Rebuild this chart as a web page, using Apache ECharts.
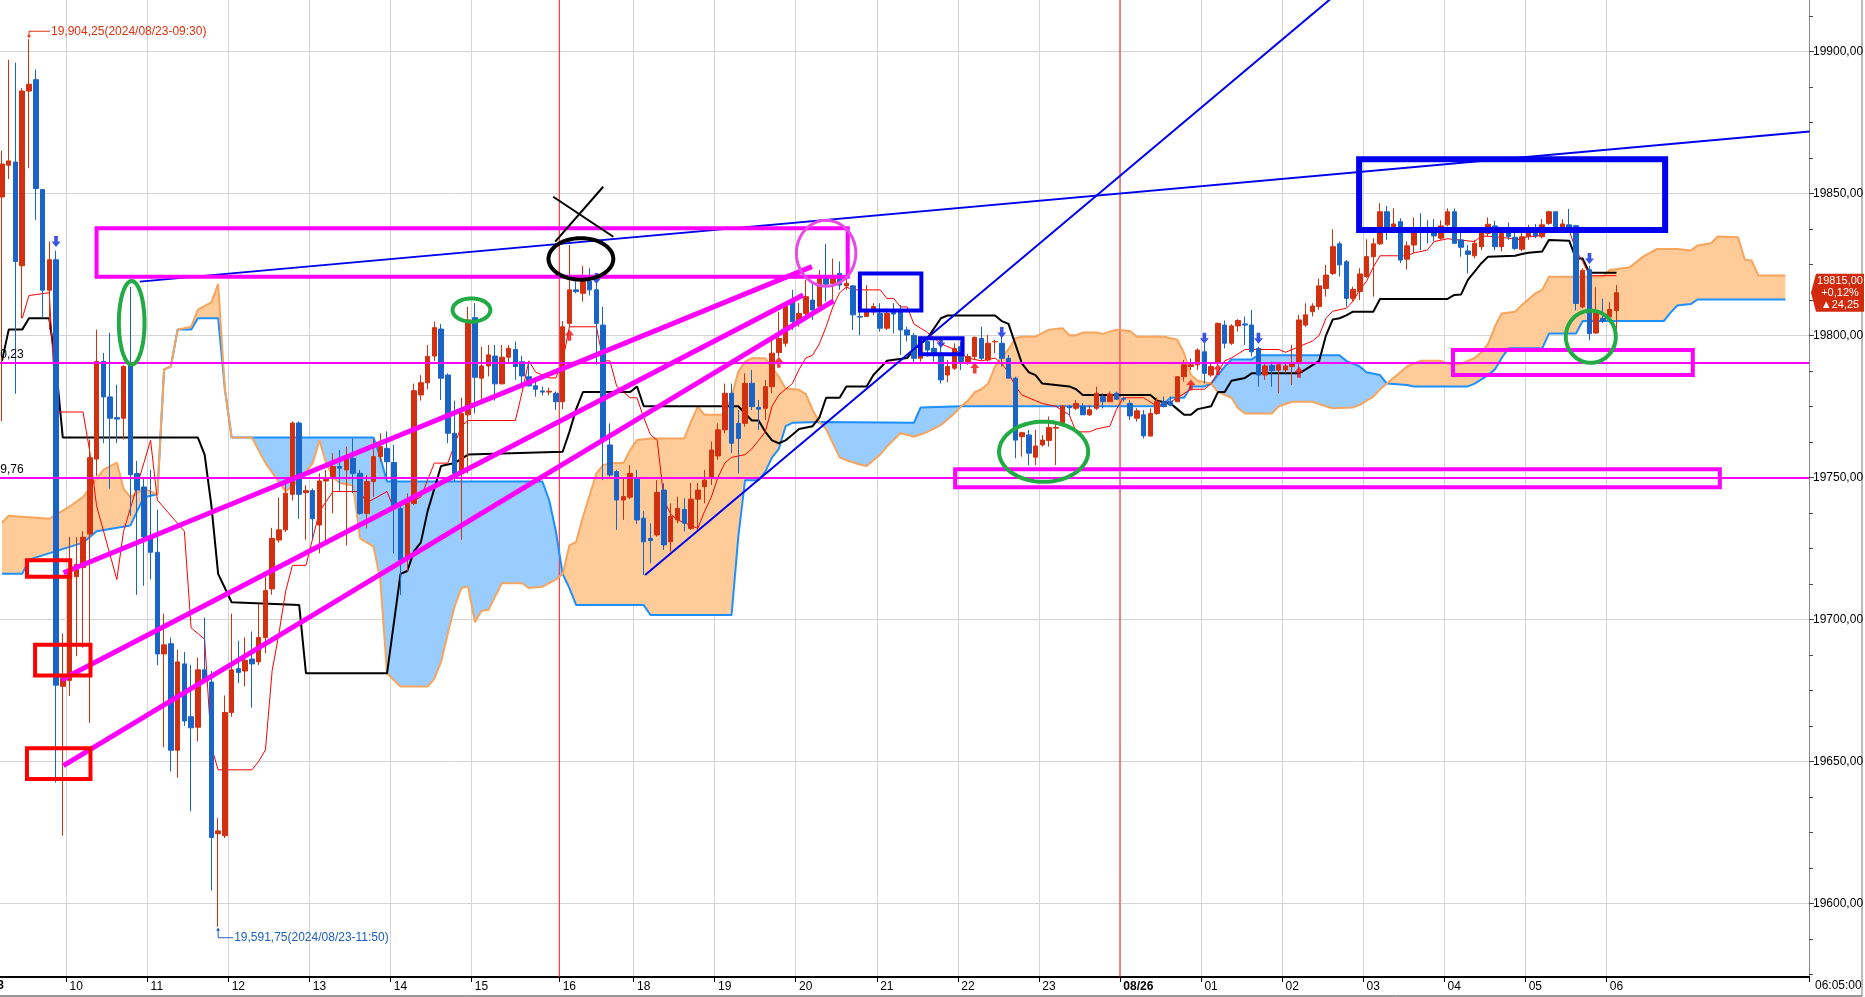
<!DOCTYPE html>
<html>
<head>
<meta charset="utf-8">
<script src="https://cdn.jsdelivr.net/npm/echarts/dist/echarts.min.js"></script>
<style>
  html, body { margin: 0; padding: 0; background: #fff; }
  #chart { width: 1865px; height: 997px; }
</style>
</head>
<body>
<div id="chart"></div>
<script>
// 5분봉 + 일목균형표, 08/23 09:10 ~ 08/26 06:05 (26칸 선행 구름 포함)
const FONT = "'Liberation Sans', Arial, sans-serif";
const UP = "#d3300f", DOWN = "#1a64c8";
const N_SLOTS = 268;

const HOUR_LABELS = { 10: "10", 22: "11", 34: "12", 46: "13", 58: "14", 70: "15", 83: "16", 94: "18",
  106: "19", 118: "20", 130: "21", 142: "22", 154: "23", 166: "08/26", 178: "01", 190: "02",
  202: "03", 214: "04", 226: "05", 238: "06" };
const DAY_BREAKS = [82.5, 165.5];

// [open, close, low, high]
const CANDLES = [
  [19848.7,19860.3,19769.7,19865],[19859.9,19861.4,19855,19897],[19861,19826,19779.4,19896],[19824.5,19886,19806,19887],
  [19886,19888.4,19858.8,19904.25],[19890,19851.7,19840.6,19893.6],[19851.3,19815.9,19806.2,19851.5],[19815.9,19826.6,19802,19833],
  [19826.6,19676.8,19642.5,19829.8],[19676.4,19679.6,19623.8,19695],[19678.5,19717.2,19673,19729],[19715,19719.3,19687,19729],
  [19718.2,19728.9,19690,19731],[19730,19756.9,19663.5,19763.3],[19756.4,19790.8,19750.4,19802],[19790.8,19778.3,19762,19793.8],
  [19778.3,19770.8,19746,19800.9],[19771,19770.5,19762,19782.6],[19770.8,19789,19763.3,19789.5],[19789.5,19750.9,19736.5,19817],
  [19751.3,19745.5,19708.6,19755.8],[19746.6,19729,19711.8,19749.4],[19729,19723.6,19714,19752.6],[19723.6,19687.8,19683.9,19738.6],
  [19687.8,19691,19655,19702],[19691.4,19653.9,19646.4,19693.6],[19653.9,19685,19644.2,19689.3],[19684.3,19664.2,19662.5,19688.5],
  [19665.7,19661.8,19632.4,19684],[19662,19682.2,19657,19686.5],[19682.2,19678.5,19677.5,19700.6],[19677.9,19623.2,19604.5,19681.8],
  [19624.5,19625.5,19591.75,19630],[19623.8,19667.2,19623,19673.2],[19667.2,19682.2,19665.7,19702],[19682.6,19681.3,19677.5,19692.5],
  [19681.8,19685.6,19676.4,19693.6],[19686,19684.3,19668.9,19695.7],[19685,19693.6,19683.9,19705.4],[19693.6,19710.1,19688,19715],
  [19710.7,19728.5,19708.6,19732.2],[19727.9,19731.5,19727,19742.9],[19731.5,19744.4,19730.7,19749.4],[19744,19769.1,19741.8,19769.7],
  [19769.1,19744,19735.4,19769.7],[19744.6,19745.3,19728,19747.2],[19745.3,19735.4,19728.5,19746.1],[19733.2,19748.7,19723.2,19751.4],
  [19748.7,19749.3,19727,19752.6],[19750.2,19753.8,19737.3,19758.5],[19753.8,19753.2,19745,19759.6],[19752.6,19756.7,19726,19760.8],
  [19756.7,19751.4,19744.4,19763.7],[19751.4,19737.3,19736.8,19752.6],[19737.3,19748.5,19732,19750.8],[19748.5,19757.3,19743.2,19763.7],
  [19757.3,19760.8,19755.5,19765.5],[19760.2,19755.5,19749,19766.2],[19755.2,19739,19723.2,19761.4],[19739,19720.9,19708.6,19740],
  [19721.5,19740.8,19716.8,19744.3],[19740.8,19780.5,19740.2,19783],[19779,19783.3,19777,19786],[19783.3,19792.5,19781,19796.6],
  [19792.7,19802.7,19791,19804.8],[19802.2,19784.9,19777.2,19804],[19786,19765.5,19762,19786.6],[19765.5,19751.4,19748.5,19777],
  [19751.4,19772.5,19728,19778],[19772,19805.4,19751.4,19810],[19806.2,19785.2,19772.5,19811.3],[19784.9,19789.2,19777,19796],
  [19789.2,19793.1,19785.5,19796.6],[19792.7,19782.9,19777,19796.6],[19782.9,19792.3,19782.8,19796.6],[19792.3,19795.4,19790.6,19796.6],
  [19795,19789,19784.3,19797.8],[19790.7,19785.7,19782.5,19792.8],[19785.4,19782.2,19782,19790.7],[19782.2,19781,19778.4,19784],
  [19780.4,19780,19778.9,19781.9],[19780,19780.3,19778.9,19781.6],[19779.6,19776.6,19773.7,19780.2],[19776.6,19803,19774,19805],
  [19804.2,19816,19803,19831.8],[19816,19815.4,19814.8,19819],[19814.8,19819,19811.9,19824.4],[19819,19816,19814,19823.6],
  [19816,19804.2,19789.6,19818.3],[19803.6,19763.7,19749,19810],[19761.4,19750.8,19750.2,19769],[19752,19742,19731.5,19752.6],
  [19742,19743.2,19735,19749.4],[19743,19751.4,19742.3,19754.3],[19749.6,19735,19733.6,19752.6],[19735.6,19727.3,19715.6,19738.1],
  [19728.5,19727.7,19719.7,19733.8],[19729.7,19744.7,19729.1,19749],[19745.5,19726.2,19724.4,19747.9],[19727.3,19736.2,19723.8,19740.8],
  [19735,19739,19733.8,19743.2],[19738.7,19733.8,19730.9,19742.6],[19732,19742.3,19731.5,19748],[19742.3,19745.5,19731.5,19748],
  [19746.7,19749,19740.8,19752.6],[19749.6,19759.6,19747.3,19762.6],[19757.5,19766.7,19756.1,19769],[19766.7,19779.6,19765.5,19783],
  [19779.6,19762,19758.5,19783],[19769,19763.7,19751.4,19773.7],[19769,19783.1,19767.8,19786.6],[19783.1,19774.9,19773.7,19787.8],
  [19774.6,19774,19766.7,19777.2],[19774.3,19781.9,19770.2,19784.3],[19781.9,19793.7,19779.6,19798.4],[19793.9,19798.9,19792.5,19808.3],
  [19797.2,19810.1,19796,19810.7],[19812.4,19804.8,19801.9,19816],[19804.8,19807.7,19803,19811.3],[19807.7,19813.6,19806,19819.5],
  [19812.4,19808.9,19805.4,19818.3],[19810.1,19820.7,19809.8,19823],[19820,19818,19811.9,19832.2],[19818.3,19820.7,19812.4,19827],
  [19821.8,19817.7,19816,19826],[19817.4,19818.3,19816,19820.1],[19817.4,19807.2,19801.9,19817.7],[19806.6,19806.4,19800,19810.1],
  [19806.6,19808.3,19806.5,19817.7],[19808.3,19810.1,19807.1,19811.3],[19807.7,19802.5,19801.3,19811.3],[19802.5,19807.7,19801.9,19809.5],
  [19808,19807.5,19800.7,19811.3],[19808.3,19801.9,19793.1,19810.7],[19801.9,19800.1,19797.8,19803],[19799.9,19791.9,19790.1,19800.7],
  [19791.9,19797.2,19790.7,19799.5],[19797.8,19794.8,19792.5,19799.5],[19795.4,19793.7,19790.7,19798.4],[19793.7,19784.3,19783,19796.6],
  [19786,19789,19783.5,19791.3],[19788.4,19795.4,19787.8,19797.2],[19796,19790.7,19787.8,19797.8],[19790.5,19792.5,19789.6,19793.5],
  [19792.5,19799.3,19791.3,19799.5],[19798.9,19791.9,19791.3,19803],[19791.3,19797.2,19790.7,19800.1],[19797.7,19797.8,19793.7,19798.4],
  [19797.2,19791.9,19789,19799.5],[19791.9,19784.9,19784.9,19793.1],[19784.9,19763.1,19756.7,19785.4],[19764.3,19765.7,19757.3,19766],
  [19764.9,19758.5,19754.3,19766.7],[19757.1,19761,19754.3,19766.7],[19761.4,19763.1,19760.8,19764.9],[19763,19767.5,19760.8,19771.4],
  [19767.3,19767.5,19754.3,19769],[19768.4,19775.1,19768,19775.5],[19775,19774.5,19771.4,19775.5],[19774.3,19776,19773.7,19777.2],
  [19775,19772,19772,19776.1],[19772,19773.8,19771.6,19775.5],[19774.3,19779.6,19773.7,19781.9],[19778.4,19776.6,19774.3,19779.6],
  [19776.6,19779.3,19776.6,19780.2],[19779.6,19777.5,19777.2,19780.2],[19777.7,19777.5,19776.6,19778.4],[19776,19771.6,19770.2,19777.2],
  [19770.8,19773.4,19769.6,19774.3],[19772,19764.6,19763.7,19773.7],[19764.5,19772.5,19764.5,19774.3],[19772.5,19776.8,19771.9,19778],
  [19776.6,19774.9,19774.6,19778.4],[19776.8,19775.4,19775,19778.4],[19776.6,19785.4,19776.6,19785.7],[19785.4,19789.6,19783.7,19791.3],
  [19789,19789.6,19787.8,19791.9],[19789.6,19794.8,19787.8,19795.4],[19794.2,19786.6,19783,19797.2],[19786,19789,19785.4,19790.1],
  [19790.1,19804.2,19789.6,19804.5],[19803.6,19797.2,19795.4,19805.2],[19797.2,19803.3,19796.6,19803.9],[19803.3,19805.2,19801.3,19805.7],
  [19804,19803.6,19796.6,19806.6],[19803.6,19794.2,19792.5,19808.9],[19795.4,19786,19781.9,19796],[19786,19789.2,19784.3,19790.1],
  [19789.4,19787.6,19781.9,19790.7],[19787.7,19789.6,19779.6,19790.1],[19787.8,19789.2,19786.6,19790.1],[19789,19790.1,19782.5,19796.6],
  [19790.1,19805.4,19787.8,19807.2],[19803.6,19807.2,19803,19811.3],[19808.3,19810.3,19806.6,19811.3],[19810.1,19817.4,19809,19820],
  [19816.5,19821.2,19813.6,19824.8],[19821.8,19831.2,19821.2,19837.3],[19832.2,19824.8,19820.7,19833],[19825.9,19813,19810.1,19826.5],
  [19813,19816.2,19811.9,19817.1],[19815.4,19821.6,19812.4,19823.6],[19820.7,19827.7,19820.1,19833.8],[19827.7,19832.2,19813.6,19834.2],
  [19832.2,19843.5,19831.8,19846.5],[19843.5,19837.7,19833.6,19845.5],[19838,19839.2,19837,19844.7],[19840,19826.5,19825.4,19841.2],
  [19826.8,19831.5,19823.2,19833.1],[19831.8,19837.1,19829,19841.5],[19837.7,19837.1,19830,19843],[19837.7,19836.5,19832.4,19840.5],
  [19837.7,19835,19833,19840.9],[19834.2,19838.5,19833.6,19840.5],[19838.9,19843.5,19838.3,19844.7],[19843.5,19832.4,19832.4,19844.7],
  [19833.6,19831,19827.7,19836.5],[19829.7,19828.5,19821.8,19831.8],[19828,19832.4,19827.1,19833.6],[19831.2,19837.1,19830,19838.3],
  [19835.9,19839.1,19834.7,19841.5],[19838.5,19831.2,19830,19840.4],[19831.2,19835.9,19829.5,19837.1],[19836.5,19834.7,19833.6,19839.7],
  [19834.5,19830.6,19830,19836.1],[19830.3,19834.7,19829.6,19836.1],[19834.7,19837.1,19833.6,19838.9],[19837.1,19835,19834.2,19839.2],
  [19834.7,19838.9,19834.2,19840.9],[19839.4,19843.5,19838.9,19843.9],[19843.5,19837.7,19837.1,19843.5],[19838,19839.2,19837.5,19840.9],
  [19838.9,19837.1,19837.1,19844.5],[19838.6,19811.2,19808.8,19838.9],[19810,19822.9,19809.5,19823.6],[19823.1,19800.6,19798.2,19824.5],
  [19800.8,19808,19800.5,19816.9],[19806,19805,19804.3,19812.9],[19806.5,19809.1,19804.3,19811.7],[19808.7,19815,19802.1,19817.7]
];

// 전환선 / 기준선  [slot, value]
const TENKAN = [[3,19806],[4,19814],[7,19815],[8,19773],[12,19773],[13,19759],[14,19740],[17,19714],[18,19731],[22,19763],[23,19742],
  [27,19731],[28,19697],[30,19693],[31,19655],[32,19647],[37,19647],[38,19650],[39,19654],[40,19682],[41,19695],[42,19710],[43,19719],
  [45,19719],[47,19738],[49,19745],[53,19745],[54,19741],[57,19745],[58,19739],[60,19741],[62,19743],[63,19749],[64,19755],[66,19755],
  [68,19768],[69,19770],[76,19770],[77,19780],[78,19791],[79,19787],[81,19785],[82,19785],[83,19791],[84,19803],[88,19803],[89,19791],
  [90,19791],[91,19782],[93,19778],[94,19778],[95,19771],[96,19765],[97,19763],[98,19742],[99,19737],[100,19735],[101,19734],[103,19732],
  [104,19738],[105,19743],[106,19750],[107,19755],[108,19757],[110,19758],[111,19760],[112,19763],[113,19766],[114,19775],[115,19779],
  [116,19781],[117,19783],[118,19788],[119,19792],[120,19793],[121,19797],[122,19803],[123,19810],[124,19815],[125,19817],[126,19816],
  [130,19816],[131,19813],[132,19813],[133,19810],[134,19810],[135,19804],[137,19801],[139,19797],[141,19795],[143,19792],[145,19791],
  [147,19792],[148,19790],[149,19787],[150,19782],[151,19779],[152,19778],[154,19776],[156,19775],[158,19772],[159,19766],[161,19766],
  [162,19767],[164,19768],[165,19774],[166,19778],[169,19778],[171,19775],[172,19775],[174,19778],[176,19781],[178,19781],[179,19783],
  [181,19791],[182,19792],[184,19795],[186,19795],[189,19795],[190,19794],[192,19796],[193,19797],[194,19798],[195,19800],[196,19806],
  [197,19808.5],[199,19809.5],[200,19812],[201,19816],[202,19819],[203,19824],[204,19828],[208,19828],[209,19829],[211,19830],[212,19833],
  [214,19834],[218,19833],[219,19835],[221,19834.7],[223,19834.2],[225,19833.6],[226,19835],[227,19834.7],[229,19836.5],[232,19837],
  [233,19830],[234,19826],[235,19821],[239,19821]];

const KIJUN = [[0,19791],[1,19802],[3,19802],[4,19806],[7,19806],[8,19789],[9,19764],[29,19764],[30,19758],[31,19740],[32,19716],
  [34,19706],[44,19705],[45,19681],[57,19681],[59,19716],[60,19717],[61,19724],[62,19727],[63,19738],[64,19746],[65,19754],[67,19755],
  [69,19758],[83,19759],[84,19766],[85,19774],[86,19780],[93,19780],[94,19782],[95,19775],[109,19775],[111,19770],[112,19770],[113,19766],
  [114,19763],[115,19762],[116,19763],[117,19765],[118,19767],[120,19768],[121,19771],[122,19778],[124,19778],[125,19782],[128,19782],
  [129,19786],[131,19791],[134,19792],[135,19795],[137,19799],[139,19806],[140,19807],[147,19807],[148,19805],[149,19804],[150,19797],
  [151,19790],[152,19787],[153,19786],[154,19783],[158,19782],[159,19781],[160,19779],[170,19779],[171,19777],[173,19776],[174,19774],
  [175,19772],[176,19772],[177,19774],[179,19775],[180,19780],[181,19780],[182,19784],[184,19785],[185,19786.6],[192,19786.6],[193,19788],
  [195,19791],[196,19800],[197,19805.6],[198,19806],[199,19807],[200,19808.3],[203,19808.3],[204,19812.8],[214,19812.8],[215,19814.2],
  [216,19814.4],[217,19819.5],[218,19822.4],[219,19825.4],[220,19827.7],[224,19828],[225,19828.6],[226,19829.1],[228,19829.5],
  [229,19833.6],[232,19833.3],[233,19827],[234,19827],[235,19822],[239,19822]];

// 선행스팬1 (주황) / 선행스팬2 (파랑); 교차점은 두 목록에 같은 값으로 들어 있음
const SPAN_A = [[0,19734],[1,19736.5],[7,19735.4],[10,19739.7],[12,19743],[14,19749.4],[15,19752.6],[17,19755.2],[18,19746],[19,19743],
  [21,19746],[22,19745],[23,19744],[24,19788],[25,19789],[26,19802],[28,19803],[29,19809],[31,19811.6],[32,19818],[33,19781],[34,19764],
  [37,19764],[39,19755],[42,19745],[44,19749],[46,19755],[47,19763],[48,19755],[49,19750],[50,19748],[52,19747],[53,19728.5],[55,19725.6],
  [56,19714],[57,19681],[58,19678.6],[59,19676.3],[63,19676.3],[64,19679],[65,19685],[66,19695],[67,19704.5],[68,19711],[69,19711.5],
  [70,19699],[71,19703],[72,19703.3],[73,19708],[74,19712.7],[77,19712.7],[78,19711],[80,19711.5],[82,19714],[83,19716],
  [84,19726],[85,19727.3],[86,19736],[88,19751.4],[89,19754.3],[90,19755],[92,19755],[93,19759.6],[94,19763.1],[96,19763.7],[101,19763.7],
  [102,19769.6],[103,19774.9],[104,19772],[107,19772],[108,19778.4],[109,19787.2],[110,19790.7],[111,19791.9],[113,19791.9],[115,19785.4],
  [116,19781.3],[118,19780.8],[119,19779.3],[120,19773.7],[121,19769.5],[122,19767],[123,19762],[124,19757],[125,19756],[127,19754.5],
  [128,19754],[130,19758],[131,19760.8],[133,19765.5],[134,19765],[135,19764.3],[137,19766],[139,19768.4],[141,19772.5],[142,19775],
  [143,19777],[144,19780],[145,19781],[146,19783],[147,19789],[148,19792.5],[149,19795],[150,19799],[151,19799.5],[153,19799.5],
  [155,19802],[157,19802.5],[158,19800],[159,19800],[160,19801],[162,19801],[163,19800.5],[164,19801.3],[165,19802],[167,19801.5],
  [168,19799.5],[172,19799.5],[174,19798.4],[175,19793.7],[176,19786],[177,19784],[179,19783],[180,19780],[181,19779],[182,19778],
  [183,19774.3],[184,19772.5],[188,19772.5],[189,19775],[191,19776.6],[194,19776.6],[196,19775],[197,19774.3],[200,19774.6],[201,19775.5],
  [203,19778.4],[204,19781],[205,19783],[206,19785],[207,19787],[208,19789],[209,19790],[210,19791],[213,19791],[214,19790],[216,19790],
  [217,19791],[218,19792],[219,19794],[220,19797],[221,19803],[222,19807.7],[224,19808.3],[225,19810.7],[227,19814.8],[228,19816],
  [229,19820.6],[237,19820.6],[238,19823],[241,19824],[243,19827.8],[245,19830.4],[248,19830.4],[250,19829.9],[251,19831.6],[253,19832.4],
  [254,19834.8],[257,19834.5],[258,19826.6],[259,19826.3],[260,19821.1],[264,19821.1]];

const SPAN_B = [[0,19716],[3,19716],[4,19721],[12,19727],[14,19731],[19,19733],[20,19738],[21,19743],[23,19744],[24,19788],[25,19789],
  [26,19802],[28,19802],[29,19806],[32,19806],[33,19781],[34,19764],[55,19764],[56,19757],[57,19748.5],[80,19748.5],[81,19742],[82,19731],
  [83,19716],[84,19711],[85,19705],[95,19705],[96,19701.5],[108,19701.5],[109,19729],[110,19749],[112,19749],[113,19752],[114,19757],
  [115,19760],[116,19768],[117,19769.2],[121,19769.5],[135,19769.2],[136,19774.6],[142,19775],[171,19775],[172,19776],[173,19778],
  [175,19778],[176,19782],[178,19782],[179,19783],[181,19789],[182,19791.5],[185,19791.5],[186,19793],[198,19793],[199,19791],[200,19790],
  [201,19789],[202,19787],[204,19786],[205,19783],[208,19782.5],[209,19782],[217,19782],[218,19783],[220,19786],[221,19788],[222,19792],
  [223,19795.4],[228,19795.4],[229,19800.6],[233,19800.6],[234,19805],[246,19805],[247,19808],[248,19810.5],[250,19811],[251,19812.6],
  [264,19812.6]];
const CLOUD_CROSS = [0, 23, 34, 83, 121, 142, 179, 205, 264];

// 신호 화살표 [slot, price]
const SELL_SIGNALS = [[8,19833],[88,19820],[139,19797.5],[148,19801],[178,19799],[186,19799],[235,19827]];
const BUY_SIGNALS = [[84,19800],[115,19790.5],[144,19788.5],[176,19782.5],[180,19788],[192,19787]];

// 손그림 [slot0, price0, slot1, price1]
const PINK_BOXES = [[14.0,19837.7,125.2,19820.6],[141.1,19752.8,254.3,19746.5],[214.8,19794.8,250.3,19786]];
const RED_BOXES = [[3.7,19720.8,10.1,19715],[4.9,19691,13.1,19680.2],[3.7,19654.6,13.1,19643.8]];
const BLUE_BOXES = [[127,19821.8,136.1,19808.7],[135.9,19799,142.2,19793.3]];
const BIG_BLUE_BOX = [200.9,19862,246.2,19837.1];
const PINK_RAYS = [[9.1,19716.4,119.9,19824.2],[8.8,19678.7,118.6,19814.2],[9.1,19648.5,123.1,19812.1]];
const BLUE_TRENDS = [[20.4,19818.9,267.6,19871.8],[95.2,19715.6,200,19925.1]];
const BLACK_CROSS = [[81.6,19848.8,90.5,19834.7],[89,19852.3,81.9,19833]];
// [slot, price, radiusSlots, radiusPrice]
const GREEN_RINGS = [[19.2,19804.4,1.9,14.7],[69.5,19808.9,2.8,4.1],[154.2,19759,6.6,10.6],[235.2,19799.5,3.7,9.2]];
const BLACK_RING = [85.7,19826.9,4.8,7.3];
const PINK_RING = [122,19828.9,4.4,11.6];
const PINK_LEVELS = [19790.23, 19749.76];
const LEVEL_TEXT = ["19790,23", "19749,76"];

const HIGH_MARK = { slot: 4, price: 19904.25, text: "19,904,25(2024/08/23-09:30)" };
const LOW_MARK = { slot: 32, price: 19591.75, text: "19,591,75(2024/08/23-11:50)" };
const LAST = { price: 19815.00, lines: ["19815,00", "+0,12%", "\u25B224,25"] };

const CATS = Array.from({ length: N_SLOTS }, (_, i) => HOUR_LABELS[i] || "");
const isHour = i => HOUR_LABELS[i] !== undefined;

const chart = echarts.init(document.getElementById("chart"), null, { renderer: "canvas" });

function xPx(api, x) {
  const a = api.coord([0, 19800]), b = api.coord([1, 19800]);
  return a[0] + x * (b[0] - a[0]);
}
function pt(api, x, v) { return [xPx(api, x), api.coord([0, v])[1]]; }

function ringPoints(api, r) {
  const c = pt(api, r[0], r[1]);
  const rx = xPx(api, r[0] + r[2]) - c[0];
  const ry = c[1] - pt(api, r[0], r[1] + r[3])[1];
  const out = [];
  for (let k = 0; k < 60; k++) {
    const t = k / 60 * Math.PI * 2;
    out.push([c[0] + rx * Math.cos(t), c[1] + ry * Math.sin(t)]);
  }
  return out;
}
function boxShape(api, b, color, w) {
  const p0 = pt(api, b[0], b[1]), p1 = pt(api, b[2], b[3]);
  return { type: "rect", shape: { x: p0[0], y: p0[1], width: p1[0] - p0[0], height: p1[1] - p0[1] },
    style: { fill: "none", stroke: color, lineWidth: w } };
}
function lineShape(api, l, color, w) {
  const p0 = pt(api, l[0], l[1]), p1 = pt(api, l[2], l[3]);
  return { type: "line", shape: { x1: p0[0], y1: p0[1], x2: p1[0], y2: p1[1] }, style: { stroke: color, lineWidth: w } };
}

function renderCloud(params, api) {
  const children = [];
  const mean = arr => arr.reduce((t, p) => t + p[1], 0) / arr.length;
  for (let s = 0; s < CLOUD_CROSS.length - 1; s++) {
    const x0 = CLOUD_CROSS[s], x1 = CLOUD_CROSS[s + 1];
    const a = SPAN_A.filter(p => p[0] >= x0 && p[0] <= x1);
    const b = SPAN_B.filter(p => p[0] >= x0 && p[0] <= x1);
    const pts = a.map(p => api.coord(p)).concat(b.slice().reverse().map(p => api.coord(p)));
    children.push({ type: "polygon", shape: { points: pts },
      style: { fill: mean(a) >= mean(b) ? "#ffcc99" : "#99ccff", stroke: null } });
  }
  return { type: "group", children };
}

function renderBreaks(params, api) {
  return { type: "group", children: DAY_BREAKS.map(x => {
    const top = pt(api, x, 1), bot = pt(api, x, 0);
    return { type: "line", shape: { x1: top[0], y1: top[1], x2: bot[0], y2: bot[1] }, style: { stroke: "#ff2020", lineWidth: 1 } };
  }) };
}

function renderDrawings(params, api) {
  const ch = [];
  const left = xPx(api, -0.5), right = xPx(api, N_SLOTS - 0.5);
  PINK_LEVELS.forEach((v, i) => {
    const y = api.coord([0, v])[1];
    ch.push({ type: "line", shape: { x1: left, y1: y, x2: right, y2: y }, style: { stroke: "#ff00ff", lineWidth: 2 } });
    ch.push({ type: "text", style: { text: LEVEL_TEXT[i], x: left + 25, y: y - 2, align: "right", verticalAlign: "bottom",
      fill: "#000", font: "12px " + FONT } });
  });
  BLUE_TRENDS.forEach(l => ch.push(lineShape(api, l, "#0000ee", 2)));
  PINK_RAYS.forEach(l => ch.push(lineShape(api, l, "#ff00ff", 5)));
  PINK_BOXES.forEach(b => ch.push(boxShape(api, b, "#ff00ff", 4)));
  RED_BOXES.forEach(b => ch.push(boxShape(api, b, "#ff0000", 4)));
  BLUE_BOXES.forEach(b => ch.push(boxShape(api, b, "#0000ee", 4)));
  ch.push(boxShape(api, BIG_BLUE_BOX, "#0000ee", 6));
  GREEN_RINGS.forEach(r => ch.push({ type: "polygon", shape: { points: ringPoints(api, r) },
    style: { fill: "none", stroke: "#22aa44", lineWidth: 4 } }));
  ch.push({ type: "polygon", shape: { points: ringPoints(api, BLACK_RING) }, style: { fill: "none", stroke: "#000", lineWidth: 4 } });
  ch.push({ type: "polygon", shape: { points: ringPoints(api, PINK_RING) }, style: { fill: "none", stroke: "#e84ae8", lineWidth: 3 } });
  BLACK_CROSS.forEach(l => ch.push(lineShape(api, l, "#000", 2)));

  // 최고/최저 표시
  const hp = pt(api, HIGH_MARK.slot, HIGH_MARK.price);
  ch.push({ type: "polyline", shape: { points: [[hp[0], hp[1] - 2], [hp[0], hp[1] - 8], [hp[0] + 21, hp[1] - 8]] },
    style: { fill: "none", stroke: "#e03010", lineWidth: 1 } });
  ch.push({ type: "polygon", shape: { points: [[hp[0] - 2, hp[1] - 4], [hp[0] + 2, hp[1] - 4], [hp[0], hp[1] - 1]] },
    style: { fill: "#e03010" } });
  ch.push({ type: "text", style: { text: HIGH_MARK.text, x: hp[0] + 22, y: hp[1] - 8, verticalAlign: "middle",
    fill: "#e03010", font: "12px " + FONT } });
  const lp = pt(api, LOW_MARK.slot, LOW_MARK.price);
  ch.push({ type: "polyline", shape: { points: [[lp[0], lp[1] + 2], [lp[0], lp[1] + 11], [lp[0] + 15, lp[1] + 11]] },
    style: { fill: "none", stroke: "#1a5fc0", lineWidth: 1 } });
  ch.push({ type: "polygon", shape: { points: [[lp[0] - 2, lp[1] + 4], [lp[0] + 2, lp[1] + 4], [lp[0], lp[1] + 1]] },
    style: { fill: "#1a5fc0" } });
  ch.push({ type: "text", style: { text: LOW_MARK.text, x: lp[0] + 16, y: lp[1] + 11, verticalAlign: "middle",
    fill: "#1a5fc0", font: "12px " + FONT } });

  // 현재가 박스
  const y = api.coord([0, LAST.price])[1];
  const bx = right + 2;
  ch.push({ type: "polygon", shape: { points: [[bx, y], [bx + 5, y - 19], [bx + 53, y - 19], [bx + 53, y + 19], [bx + 5, y + 19]] },
    style: { fill: "#d22a0c" } });
  LAST.lines.forEach((t, i) => ch.push({ type: "text", style: { text: t, x: bx + 29, y: y - 12 + i * 12, align: "center",
    verticalAlign: "middle", fill: "#fff", font: "11px " + FONT } }));
  return { type: "group", children: ch };
}

const DOWN_ARROW = "path://M3,0 L7,0 L7,5 L10,5 L5,10 L0,5 L3,5 Z";
const UP_ARROW = "path://M5,0 L10,5 L7,5 L7,10 L3,10 L3,5 L0,5 Z";

chart.setOption({
  backgroundColor: "#fff",
  animation: false,
  grid: [
    { left: -1.4, right: 56, top: -90.7, bottom: -48.3, outerBoundsMode: "none", containLabel: false },
    { left: -1.4, right: 56, top: 0, bottom: 20, outerBoundsMode: "none", containLabel: false },
  ],
  xAxis: [
    { gridIndex: 0, type: "category", data: CATS, boundaryGap: true, show: false },
    { gridIndex: 1, type: "category", data: CATS, boundaryGap: true,
      axisLine: { lineStyle: { color: "#000", width: 2 } },
      axisTick: { show: true, interval: i => isHour(i), length: 5, lineStyle: { color: "#000" } },
      axisLabel: { interval: i => isHour(i), align: "left", margin: 4, color: "#000", fontSize: 12, fontFamily: FONT,
        formatter: v => v === "08/26" ? "{b|08/26}" : v,
        rich: { b: { fontWeight: "bold", fontSize: 12, fontFamily: FONT, color: "#000" } } },
      splitLine: { show: true, interval: i => isHour(i), lineStyle: { color: "#d4d4d4", width: 1 } } },
  ],
  yAxis: [
    { gridIndex: 0, type: "value", position: "right", min: 19550, max: 19950, interval: 50,
      axisLine: { show: false },
      axisTick: { show: true, length: 5, lineStyle: { color: "#444" } },
      minorTick: { show: true, splitNumber: 4, length: 4, lineStyle: { color: "#444" } },
      axisLabel: { color: "#000", fontSize: 12, fontFamily: FONT, margin: 4, formatter: v => v.toFixed(2).replace(".", ",") },
      splitLine: { show: true, lineStyle: { color: "#d4d4d4", width: 1 } } },
    { gridIndex: 1, type: "value", position: "right", min: 0, max: 1,
      axisLine: { show: true, lineStyle: { color: "#888", width: 1 } },
      axisTick: { show: false }, axisLabel: { show: false }, splitLine: { show: false } },
  ],
  series: [
    { type: "custom", name: "cloud", xAxisIndex: 0, yAxisIndex: 0, data: [[0, 19800]], renderItem: renderCloud,
      z: 1, silent: true, clip: false },
    { type: "custom", name: "day", xAxisIndex: 1, yAxisIndex: 1, data: [[0, 0]], renderItem: renderBreaks,
      z: 2, silent: true, clip: false },
    { type: "line", name: "선행스팬2", xAxisIndex: 0, yAxisIndex: 0, data: SPAN_B, symbol: "none", z: 3,
      lineStyle: { color: "#1e8fff", width: 2 } },
    { type: "line", name: "선행스팬1", xAxisIndex: 0, yAxisIndex: 0, data: SPAN_A, symbol: "none", z: 3,
      lineStyle: { color: "#f7a45c", width: 2 } },
    { type: "line", name: "기준선", xAxisIndex: 0, yAxisIndex: 0, data: KIJUN, symbol: "none", z: 4,
      lineStyle: { color: "#000", width: 2 } },
    { type: "line", name: "전환선", xAxisIndex: 0, yAxisIndex: 0, data: TENKAN, symbol: "none", z: 4,
      lineStyle: { color: "#ff0000", width: 1 } },
    { type: "candlestick", name: "가격", xAxisIndex: 0, yAxisIndex: 0, data: CANDLES, barWidth: 5, z: 5,
      itemStyle: { color: UP, color0: DOWN, borderColor: UP, borderColor0: DOWN, borderWidth: 1 } },
    { type: "scatter", name: "매도", xAxisIndex: 0, yAxisIndex: 0, data: SELL_SIGNALS, symbol: DOWN_ARROW,
      symbolSize: [9, 11], itemStyle: { color: "#0a28e0" }, z: 6 },
    { type: "scatter", name: "매수", xAxisIndex: 0, yAxisIndex: 0, data: BUY_SIGNALS, symbol: UP_ARROW,
      symbolSize: [9, 11], itemStyle: { color: "#ee1010" }, z: 6 },
    { type: "custom", name: "drawings", xAxisIndex: 0, yAxisIndex: 0, data: [[0, 19800]], renderItem: renderDrawings,
      z: 7, silent: true, clip: false },
  ],
  graphic: [
    { type: "text", left: 1815, top: 980, style: { text: "06:05:00", fill: "#000", font: "12px " + FONT } },
    { type: "text", right: 1861, top: 980, style: { text: "08/23", fill: "#000", font: "bold 12px " + FONT } },
    { type: "line", shape: { x1: 0, y1: 996, x2: 1862, y2: 996 }, style: { stroke: "#333", lineWidth: 1 } },
    { type: "line", shape: { x1: 1862, y1: 0, x2: 1862, y2: 996 }, style: { stroke: "#777", lineWidth: 1 } },
  ],
});
</script>
</body>
</html>
